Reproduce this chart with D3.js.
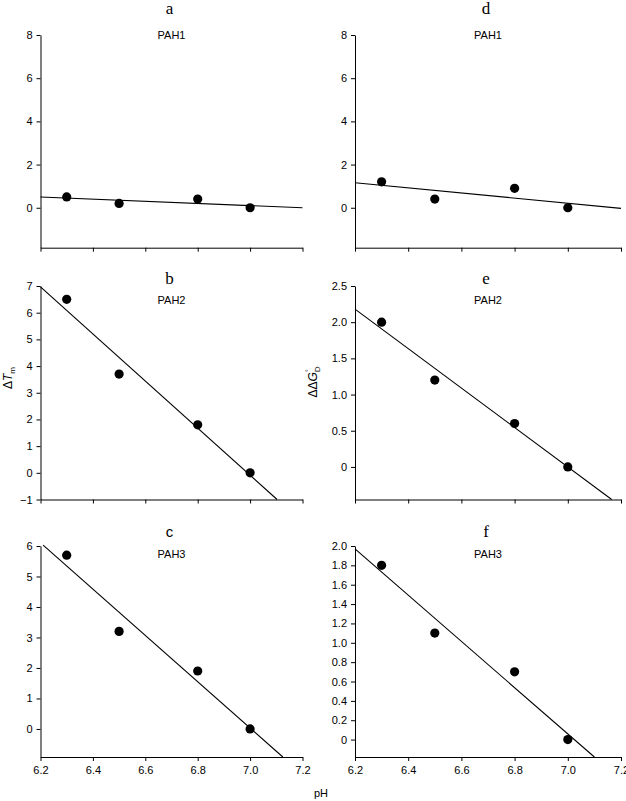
<!DOCTYPE html>
<html>
<head>
<meta charset="utf-8">
<script src="https://cdn.jsdelivr.net/npm/d3@7"></script>
<style>
  body { margin: 0; background: #fff; }
  svg { display: block; }
</style>
</head>
<body>
<svg id="chart" width="626" height="801"></svg>
<script>
// values
var pH = [6.3, 6.5, 6.8, 7.0]
var pah1Tm = [0.5, 0.2, 0.4, 0]
var pah2Tm = [6.5, 3.7, 1.8, 0]
var pah3Tm = [5.7, 3.2, 1.9, 0]
var pah1G = [1.2, 0.4, 0.9, 0]
var pah2G = [2.0, 1.2, 0.6, 0]
var pah3G = [1.8, 1.1, 0.7, 0]

// fitted lines, start and end points [pH, value]
var fitA = [[6.2, 0.5], [7.2, 0]]
var fitB = [[6.2, 6.97], [7.103, -1]]
var fitC = [[6.21, 6.03], [7.125, -0.92]]
var fitD = [[6.2, 1.16], [7.2, -0.03]]
var fitE = [[6.2, 2.18], [7.165, -0.45]]
var fitF = [[6.2, 1.97], [7.1, -0.18]]

var xTicks = [6.2, 6.4, 6.6, 6.8, 7.0, 7.2]
var ticksA = [0, 2, 4, 6, 8]
var ticksB = [-1, 0, 1, 2, 3, 4, 5, 6, 7]
var ticksC = [0, 1, 2, 3, 4, 5, 6]
var ticksE = [0, 0.5, 1.0, 1.5, 2.0, 2.5]
var ticksF = [0, 0.2, 0.4, 0.6, 0.8, 1.0, 1.2, 1.4, 1.6, 1.8, 2.0]

var letters = ["a", "b", "c", "d", "e", "f"]
var names = ["PAH1", "PAH2", "PAH3", "PAH1", "PAH2", "PAH3"]

var svg = d3.select("#chart")

// layout
var cols = [{x0: 40.5, x1: 302.5}, {x0: 355, x1: 621}]
var rows = [
  {top: 35, bottom: 247.7, letterY: 14, nameY: 39},
  {top: 286, bottom: 499.5, letterY: 284, nameY: 304},
  {top: 546, bottom: 757, letterY: 537, nameY: 558}
]

var fmt1 = d => d === 0 ? "0" : d3.format(".1f")(d)
var fmtInt = d3.format("d")

var panels = [
  {col: 0, row: 0, ys: pah1Tm, fit: fitA, ticks: ticksA, dom: [-1.85, 8], fmt: fmtInt},
  {col: 0, row: 1, ys: pah2Tm, fit: fitB, ticks: ticksB, dom: [-1, 7], fmt: fmtInt},
  {col: 0, row: 2, ys: pah3Tm, fit: fitC, ticks: ticksC, dom: [-0.92, 6], fmt: fmtInt},
  {col: 1, row: 0, ys: pah1G, fit: fitD, ticks: ticksA, dom: [-1.85, 8], fmt: fmtInt},
  {col: 1, row: 1, ys: pah2G, fit: fitE, ticks: ticksE, dom: [-0.45, 2.5], fmt: fmt1},
  {col: 1, row: 2, ys: pah3G, fit: fitF, ticks: ticksF, dom: [-0.18, 2.0], fmt: fmt1}
]

panels.forEach(function(p, i) {
  var c = cols[p.col], r = rows[p.row]
  var x = d3.scaleLinear().domain([6.2, 7.2]).range([c.x0, c.x1])
  var y = d3.scaleLinear().domain(p.dom).range([r.bottom, r.top])
  var g = svg.append("g")

  var xAxis = d3.axisBottom(x).tickValues(xTicks).tickSize(4).tickSizeOuter(0).tickPadding(5)
  if (p.row < 2) xAxis.tickFormat("")
  else xAxis.tickFormat(d3.format(".1f"))
  g.append("g")
    .attr("transform", `translate(0,${r.bottom})`)
    .call(xAxis)

  var yAxis = d3.axisLeft(y).tickValues(p.ticks).tickSize(4).tickSizeOuter(0).tickPadding(4).tickFormat(p.fmt)
  g.append("g")
    .attr("transform", `translate(${c.x0},0)`)
    .call(yAxis)

  g.selectAll(".tick text").attr("font-family", "Liberation Sans, Arial, sans-serif").attr("font-size", 11).attr("fill", "#000")
  g.selectAll(".domain, .tick line").attr("stroke", "#000").attr("stroke-width", 1)

  // fitted line
  g.append("line")
    .attr("x1", x(p.fit[0][0])).attr("y1", y(p.fit[0][1]))
    .attr("x2", x(p.fit[1][0])).attr("y2", y(p.fit[1][1]))
    .attr("stroke", "#000").attr("stroke-width", 1.1)

  // points
  g.selectAll("circle")
    .data(p.ys)
    .enter()
    .append("circle")
    .attr("cx", (d, j) => x(pH[j]))
    .attr("cy", d => y(d))
    .attr("r", 4.6)
    .attr("fill", "#000")

  var mid = (c.x0 + c.x1) / 2 - 2
  g.append("text")
    .attr("x", mid).attr("y", r.letterY)
    .attr("text-anchor", "middle")
    .attr("font-family", letters[i] == "c" ? "Liberation Sans, Arial, sans-serif" : "Liberation Serif, Times New Roman, serif")
    .attr("font-size", letters[i] == "c" ? 15 : 17)
    .text(letters[i])

  g.append("text")
    .attr("x", mid + 2).attr("y", r.nameY)
    .attr("text-anchor", "middle")
    .attr("font-family", "Liberation Sans, Arial, sans-serif")
    .attr("font-size", 11)
    .text(names[i])
})

// axis titles
var tm = svg.append("text")
  .attr("transform", "translate(12,378) rotate(-90)")
  .attr("text-anchor", "middle")
  .attr("font-family", "Liberation Sans, Arial, sans-serif")
  .attr("font-size", 12)
tm.append("tspan").text("Δ")
tm.append("tspan").attr("font-style", "italic").text("T")
tm.append("tspan").attr("font-size", 8).attr("dy", 3).text("m")

var dg = svg.append("text")
  .attr("transform", "translate(317,382) rotate(-90)")
  .attr("text-anchor", "middle")
  .attr("font-family", "Liberation Sans, Arial, sans-serif")
  .attr("font-size", 12)
dg.append("tspan").text("ΔΔ")
dg.append("tspan").attr("font-style", "italic").text("G")
dg.append("tspan").attr("font-size", 7).attr("dy", -6).attr("dx", 0).text("°")
dg.append("tspan").attr("font-size", 8).attr("dy", 9).attr("dx", -3).text("D")

svg.append("text")
  .attr("x", 321).attr("y", 797)
  .attr("text-anchor", "middle")
  .attr("font-family", "Liberation Sans, Arial, sans-serif")
  .attr("font-size", 11)
  .text("pH")
</script>
</body>
</html>
